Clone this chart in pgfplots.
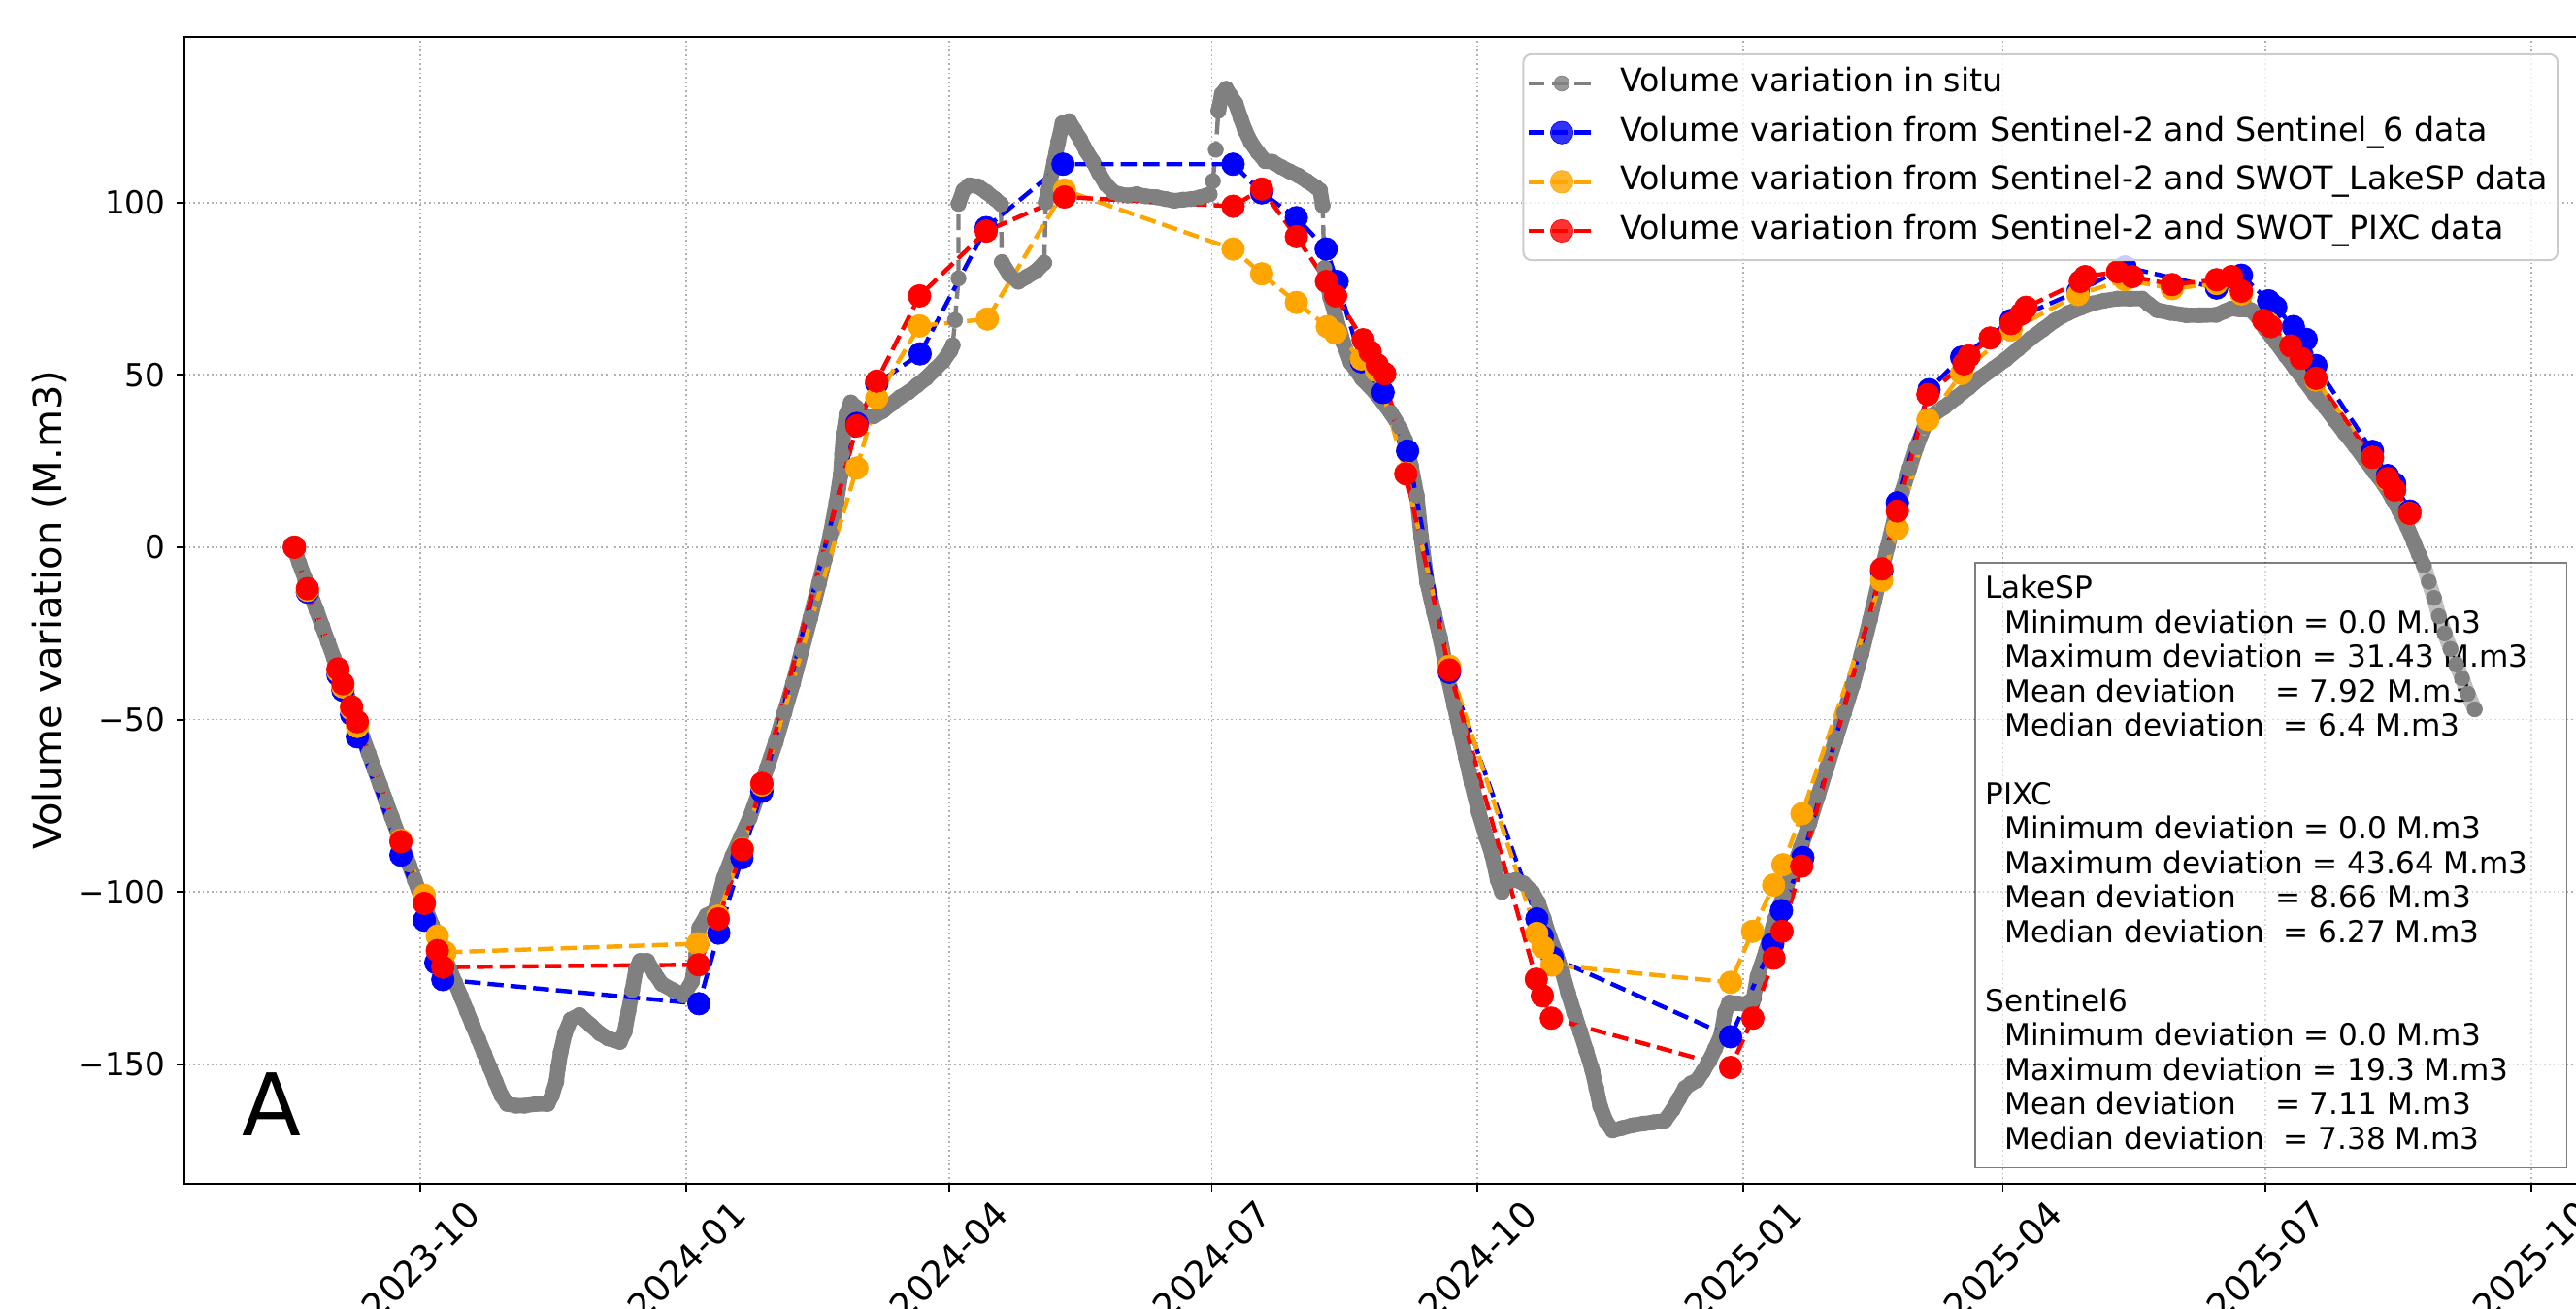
\documentclass[border=0pt]{standalone}
\usepackage{fontspec}
\setmainfont{DejaVu Sans}
\usepackage{graphicx}
\usepackage{pgfplots}
\pgfplotsset{compat=1.18}
\usepackage{pgfplotstable}
\definecolor{mplorange}{HTML}{FFA500}
\definecolor{mplgray}{HTML}{808080}
\newcommand\rotlab[1]{\rotatebox{45}{\fontsize{11}{13}\selectfont #1}}

% x = days since 2023-10-01
\pgfplotstableread{
x y
-44 0
-42 -4.6
-40 -9.2
-38 -13.8
-36 -18.4
-34 -23
-32 -27.6
-30 -32.2
-28 -36.8
-26 -41.4
-24 -46
-22 -50.6
-20 -55.2
-18 -59.8
-16 -64.4
-14 -69
-12 -73.6
-10 -78.2
-8 -82.8
-6 -87.4
-4 -92
-2 -96.6
0 -101
2 -105.3
4 -109.6
6 -113.9
8 -118.2
10 -122.3
12 -126.3
14 -130.4
16 -134.5
18 -138.6
20 -142.7
22 -146.8
24 -150.9
26 -155
28 -159
30 -161.5
33 -162
36 -162
40 -161.5
44 -161.5
45.5 -159
47 -155
47.6 -151
48.5 -146.5
50 -141
52 -137
55 -135.7
59 -138.7
62 -141
65 -142.5
69 -143.5
70.7 -140.5
72 -134.5
73.3 -128.5
74.6 -122.4
76 -120
78.5 -120
81 -123.6
83.6 -126.7
87.5 -128.5
91 -130
94 -126
95.5 -118
96.5 -110.4
99 -106.8
102 -105.5
105 -96
108 -89.5
111 -84
114 -78.5
117 -71.5
120 -64
123 -56.5
126 -48
129 -39.5
132 -30
135 -20.5
138 -10.5
140 -3.5
142 4
144 13
145.5 21
146 27
146.5 33
147.5 38.5
149 42
151 40.5
153.5 37.5
157 38
160 39.5
163 41.5
166 43.5
169 45
172 47
175 49
178 51.5
181 54
183.5 57
184.3 58.6
nan nan
185.1 65.9
nan nan
186.3 78
nan nan
186.3 99.6
188 103.5
190 105
193 104.7
196 103
199 101
201 99.5
nan nan
201.3 82.7
204 79
207 77
210 78.5
213 80
216 82.5
nan nan
216.5 100
218 106
219.5 112
220.8 117.5
222.3 123
224.6 123.6
226.5 121
228.4 118.4
230.5 115
232.9 111.8
235 108.5
237.4 105.2
240 103
242 102.4
245 102
248 102.4
251 101.8
255 101.5
258 101
261 100.5
264 100.8
267 101
270 101.5
273.3 102.4
nan nan
274.4 106.2
nan nan
275.4 115.3
nan nan
276.3 126.6
277.5 131.5
279 133
280.5 131
282.3 128.7
284 124.5
285.5 121
287.5 117.5
290 114.5
292.5 112
295 111.8
298 110.3
301 109
304 107.8
307 106.2
310 104.5
311.5 103.5
312.4 99.1
nan nan
313 81
315 72.4
317 66.7
319.6 59.2
322.1 53.6
326 48.9
331 44.5
336 39
339 35
341 31
343 23.6
345 15
346.5 3
348.5 -10
351 -19
353 -26
356 -38.5
358 -46
360 -53.5
362 -61
364 -68.5
366.5 -77
369 -84
371 -89
373 -96.5
374.5 -100
376.5 -97
379.3 -96.5
382 -97.5
385 -100
387 -103
389 -107.7
391 -113
393.3 -118
395.5 -123.5
397.4 -129.3
399.5 -135
401.6 -140.5
403.7 -146
405.8 -151.8
407.2 -157
408.5 -162.1
410.5 -166.5
412.8 -169.2
416 -168.5
419.7 -167.7
423.5 -167.2
427 -166.8
430.9 -166.3
433.7 -163.1
435.8 -160
437.9 -156.9
440 -155.5
442.1 -154.6
444.2 -152
446.3 -149
448.3 -145.5
450.4 -141.5
451.8 -134.9
453.2 -132.1
456 -132.3
458.8 -132.5
461.6 -131.1
463 -124.5
466 -117
469 -108
472 -101
475 -94
478 -87
481 -80
484 -72
487 -64
490 -56
493 -48
496 -40
499 -31
502 -21
505 -10
508 0
510.5 8.7
513 16
515.6 22.8
518 29
520.8 35
524 38.5
527.6 40.6
532 43.5
536.2 46.3
540 49
544.8 51.9
549 54.5
553.3 57.5
557.5 60.5
561.9 63.2
566 65.8
570.5 67.9
575 69.5
579 70.7
583 71.5
587.6 72.1
592 72.1
596.2 72.1
598.5 70.5
601.3 68.8
606 68
611.6 67.3
616 67.3
621.9 67.4
625 68.5
627 69.2
630 69
633.9 68.8
636.5 66.5
639 63.2
642.5 59.5
645.9 55.6
649.3 51.8
652.7 48.1
656 44.3
659.6 40.6
663 36.8
666.4 33.1
670 29.3
673.3 25.6
676.7 21.8
680.1 18.1
683 14
685.3 10.6
688 6
690.4 1.3
692 -2
693.8 -5.3
695.5 -10
697.3 -14.7
699 -20
701 -25
703 -29.5
705 -34
707 -38
709 -42.5
711.4 -47
}\insitu

\pgfplotstableread{
x y
-43.7 0
-39.2 -13
-28.6 -37
-26.9 -41.5
-23.9 -48.5
-21.9 -55
-6.8 -89.3
1.3 -108.2
5.3 -120.5
7.7 -125.4
96.4 -132.4
103.3 -111.9
111.3 -90.1
118.2 -70.8
151.1 35.9
158 47.4
173 56.1
195.9 92.7
222.5 111.1
281.4 111.1
291.3 102.8
303.3 95.6
313.6 86.5
317.4 77.1
325.8 53.8
333.3 44.9
341.8 27.9
356.3 -36.3
386.6 -107.8
388.5 -113
391.9 -119
453.7 -142
468.3 -115
471.3 -105.4
478.7 -90
506 -7
511.4 12.9
522.4 45.7
533.7 55.1
550.8 65.8
574 74.2
590.3 81.3
622 75.2
630.6 78.9
640 71.5
642.5 69.6
648.6 64
653 60.3
656.4 52.7
676 27.8
681.2 20.8
683.7 18.4
688.9 10.5
}\sentinel

\pgfplotstableread{
x y
-43.7 0
-39.2 -12.5
-28.6 -36
-26.9 -40.5
-23.9 -47
-21.9 -52
-6.8 -85
1.3 -101
5.8 -112.8
8.5 -117.5
96 -115
103 -107
111.4 -87.5
118.2 -69
151.1 23
158 43.3
172.8 64.2
196.3 66.2
223 103.6
281.4 86.5
291.3 79.3
303.3 71
314 64
316.8 62.1
325.8 54.6
331 51.3
341.2 21.5
356.3 -34.5
386.6 -112
388.7 -116
391.8 -121.2
453.7 -126.2
461.3 -111.4
468.6 -98
471.8 -92.1
478.4 -77.3
506 -9.6
511.4 5.4
522 37
533.7 50.4
550.8 63
574 73.3
590.3 77.6
606.6 75
622 76.5
630.6 73.5
640 65
656.4 48.5
676 26
681.2 19.5
688.9 9.8
}\lakesp

\pgfplotstableread{
x y
-43.7 0
-39.2 -12
-28.6 -35.3
-26.9 -39.6
-23.9 -46.3
-21.9 -50.6
-6.8 -85.4
1.3 -103.3
5.8 -117
7.7 -121.8
96.3 -121.1
103.1 -107.8
111.4 -87.7
118.2 -68.5
151.1 35.2
158 48.2
172.8 72.9
195.9 91.7
223 101.6
281.4 98.9
291.3 103.9
303.3 90.1
313.7 77.1
316.9 72.9
326.4 60.2
328.8 56.7
331.3 52.9
333.9 50.3
341.2 21.3
356.3 -35.6
386.4 -125.3
388.5 -130.1
391.6 -136.6
453.7 -150.9
461.4 -136.6
468.7 -119.2
471.5 -111.4
478.3 -92.5
506 -6.3
511.4 10.5
522 44.3
534.5 53.2
536.3 55.5
543.6 60.7
550.8 64.9
554.3 67.7
556 69.6
574.8 77.1
576.5 78.5
587.7 79.9
592.8 78.5
606.6 76.2
622 77.6
627.2 78.5
630.6 74.3
638.3 65.8
640.8 64
647.7 58.4
651.3 54.8
656.4 49
676 26
681.2 19.9
683.7 16.6
688.9 9.8
}\pixc

\begin{document}
\begin{tikzpicture}
\path[use as bounding box] (-57.03pt,-38.73pt) rectangle (739.17pt,365.94pt);
\begin{axis}[
  at={(0pt,0pt)}, anchor=south west,
  scale only axis, width=741.2pt, height=354.6pt,
  xmin=-81.75, xmax=748.75, ymin=-184.6, ymax=148.1,
  axis line style={line width=0.55pt},
  tick style={line width=0.55pt, black},
  major tick length=2.33pt,
  tick align=outside, tick pos=left,
  grid=major,
  major grid style={line width=0.5pt, draw=black!31, dash pattern=on 0.5pt off 0.9pt},
  xtick={0,92,183,274,366,458,548,639,731},
  xticklabels={\rotlab{2023-10},\rotlab{2024-01},\rotlab{2024-04},\rotlab{2024-07},\rotlab{2024-10},\rotlab{2025-01},\rotlab{2025-04},\rotlab{2025-07},\rotlab{2025-10}},
  ytick={-150,-100,-50,0,50,100},
  yticklabels={−150,−100,−50,0,50,100},
  yticklabel style={font=\fontsize{9.8}{11}\selectfont},
  xticklabel style={anchor=north, inner sep=2pt},
  ylabel={Volume variation (M.m3)},
  ylabel style={font=\fontsize{12}{14}\selectfont, at={(axis description cs:-0.0565,0.5)}, anchor=center},
  legend style={at={(0.990,0.9856)}, anchor=north east, draw=black!20, line width=0.6pt,
    fill=white, fill opacity=0.8, text opacity=1, rounded corners=2.5pt,
    font=\fontsize{10}{12}\selectfont, inner xsep=1pt, inner ysep=2pt, row sep=1.1pt, column sep=5.2pt,
    nodes={inner sep=2pt, text height=0.76em, text depth=0.25em}},
  legend cell align=left,
  legend image code/.code={\draw[mark repeat=2, mark phase=2, #1] plot coordinates {(0pt,0pt) (10.2pt,0pt) (20.4pt,0pt)};},
]
\addplot[mplgray, line width=4.7pt, line join=round, line cap=round, unbounded coords=jump, forget plot] table {\insitu};
\addplot[mplgray, line width=1.33pt, dash pattern=on 4.93pt off 2.13pt, mark=*, mark size=2.35pt,
  mark options={solid, fill=mplgray, draw=mplgray, line width=0.2pt}, unbounded coords=discard] table {\insitu};
\addlegendentry{Volume variation in situ}
\addplot[blue, line width=1.33pt, dash pattern=on 4.93pt off 2.13pt, mark=*, mark size=3.5pt,
  mark options={solid, fill=blue, draw=blue, line width=0.2pt}] table {\sentinel};
\addlegendentry{Volume variation from Sentinel-2 and Sentinel\_6 data}
\addplot[mplorange, line width=1.33pt, dash pattern=on 4.93pt off 2.13pt, mark=*, mark size=3.5pt,
  mark options={solid, fill=mplorange, draw=mplorange, line width=0.2pt}] table {\lakesp};
\addlegendentry{Volume variation from Sentinel-2 and SWOT\_LakeSP data}
\addplot[red, line width=1.33pt, dash pattern=on 4.93pt off 2.13pt, mark=*, mark size=3.5pt,
  mark options={solid, fill=red, draw=red, line width=0.2pt}] table {\pixc};
\addlegendentry{Volume variation from Sentinel-2 and SWOT\_PIXC data}

\draw[draw=black, draw opacity=0.5, fill=white, fill opacity=0.5, line width=0.55pt]
  (axis cs:538.5,-4.56) rectangle (axis cs:743.3,-180);
\node[anchor=north west, inner sep=0pt, align=left, font=\fontsize{9.33}{10.64}\selectfont]
  at (axis cs:541.7,-8.0) {LakeSP\\
~~Minimum deviation = 0.0 M.m3\\
~~Maximum deviation = 31.43 M.m3\\
~~Mean deviation~~~~= 7.92 M.m3\\
~~Median deviation~~= 6.4 M.m3\\[10.64pt]
PIXC\\
~~Minimum deviation = 0.0 M.m3\\
~~Maximum deviation = 43.64 M.m3\\
~~Mean deviation~~~~= 8.66 M.m3\\
~~Median deviation~~= 6.27 M.m3\\[10.64pt]
Sentinel6\\
~~Minimum deviation = 0.0 M.m3\\
~~Maximum deviation = 19.3 M.m3\\
~~Mean deviation~~~~= 7.11 M.m3\\
~~Median deviation~~= 7.38 M.m3};
\node[anchor=base west, inner sep=0pt, font=\fontsize{26.7}{30}\selectfont] at (axis cs:-62,-170.8) {A};
\end{axis}
\end{tikzpicture}
\end{document}
